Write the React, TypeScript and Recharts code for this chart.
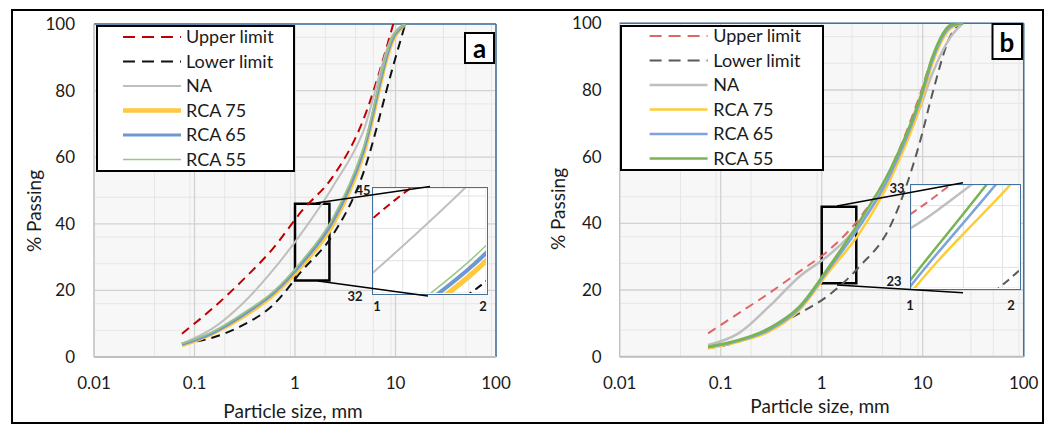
import React from 'react';
import { LineChart, Line, XAxis, YAxis, CartesianGrid, ReferenceArea, ReferenceLine, Legend } from 'recharts';

const FONT = "Lato, 'Open Sans', 'Noto Sans', sans-serif";

// ---------- Panel a data (sieve sizes in mm, % passing) ----------
const sieveA = [0.075, 0.15, 0.3, 0.6, 1.18, 2.36, 4.75, 9.5, 12.5];
const upperA = [7, 14.5, 23, 32.5, 44, 54, 71, 100, null];
const lowerA = [4, 5.8, 9.5, 15.5, 26, 36.5, 55, 87.5, 100];
const naA = [4, 8.5, 16, 26, 37.5, 51, 67.5, 97, 100];
const rca75A = [3.5, 7, 12, 18.5, 27.5, 39.5, 60.5, 95.5, 100];
const rca65A = [3.8, 7.2, 12.5, 19, 28.3, 40.5, 61.5, 96, 100];
const rca55A = [4, 7.5, 13, 19.5, 29, 41.5, 62.5, 96.5, 100];

// ---------- Panel b data ----------
const sieveB = [0.075, 0.15, 0.3, 0.6, 1.18, 2.36, 4.75, 9.5, 12.5, 19, 25];
const upperB = [7, 13, 19, 25.5, 32, 41.5, 56, 79, 90, 100, null];
const lowerB = [2.5, 4.5, 8.5, 13, 18.5, 27, 39, 65, 79, 96.5, 100];
const naB = [3.5, 7, 15, 24, 30.5, 39.5, 54, 75, 85, 96, 100];
const rca75B = [2.5, 4.5, 7.5, 14, 25.5, 37, 53, 75.5, 88, 98.5, 100];
const rca65B = [2.8, 4.8, 8, 14.5, 26.3, 39, 54.5, 77, 89, 99, 100];
const rca55B = [3, 5, 8.5, 15, 27, 40.5, 56, 78, 90, 99.5, 100];

// ---------- Ticks ----------
const xMajorTicks = [0.01, 0.1, 1, 10, 100];
const xMinorTicks = [
  0.02, 0.03, 0.04, 0.05, 0.06, 0.07, 0.08, 0.09,
  0.2, 0.3, 0.4, 0.5, 0.6, 0.7, 0.8, 0.9,
  2, 3, 4, 5, 6, 7, 8, 9,
  20, 30, 40, 50, 60, 70, 80, 90,
];
const yMajorTicks = [0, 20, 40, 60, 80, 100];
const yMinorTicks = [4, 8, 12, 16, 24, 28, 32, 36, 44, 48, 52, 56, 64, 68, 72, 76, 84, 88, 92, 96];
const insetXTicks = [1.2, 1.4, 1.6, 1.8];
const insetYTicksA = [36, 40, 44];
const insetYTicksB = [25, 28, 31];
const insetDomainA = [32, 45];
const insetDomainB = [23, 33];
const insetLabelsA = ['45', '32', '1', '2'];
const insetLabelsB = ['33', '23', '1', '2'];
const seriesNames = ['Upper limit', 'Lower limit', 'NA', 'RCA 75', 'RCA 65', 'RCA 55'];

type Row = { [k: string]: number | null };
const build = (x: number[], u: (number | null)[], l: number[], n: number[], r75: number[], r65: number[], r55: number[]): Row[] =>
  x.map((v, i) => ({ x: v, upper: u[i], lower: l[i], na: n[i], rca75: r75[i], rca65: r65[i], rca55: r55[i] }));

const rowsA = build(sieveA, upperA, lowerA, naA, rca75A, rca65A, rca55A);
const rowsB = build(sieveB, upperB, lowerB, naB, rca75B, rca65B, rca55B);

type Sty = { key: string; name: string; color: string; w: number; dash?: string; legendW: number; insetW: number };

const styleA: Sty[] = [
  { key: 'upper', name: seriesNames[0], color: '#C00000', w: 2, dash: '9 6', legendW: 2, insetW: 2 },
  { key: 'lower', name: seriesNames[1], color: '#111111', w: 2, dash: '9 6', legendW: 2, insetW: 2 },
  { key: 'na', name: seriesNames[2], color: '#BFBFBF', w: 2, legendW: 2, insetW: 2 },
  { key: 'rca75', name: seriesNames[3], color: '#FFC83D', w: 4, legendW: 4.5, insetW: 5 },
  { key: 'rca65', name: seriesNames[4], color: '#6F97D0', w: 3, legendW: 3, insetW: 4 },
  { key: 'rca55', name: seriesNames[5], color: '#9CC483', w: 1.7, legendW: 1.5, insetW: 1.5 },
];

const styleB: Sty[] = [
  { key: 'upper', name: seriesNames[0], color: '#E06666', w: 2, dash: '9 6', legendW: 2, insetW: 2 },
  { key: 'lower', name: seriesNames[1], color: '#595959', w: 2, dash: '9 6', legendW: 2, insetW: 2 },
  { key: 'na', name: seriesNames[2], color: '#BFBFBF', w: 2.5, legendW: 2.5, insetW: 2.5 },
  { key: 'rca75', name: seriesNames[3], color: '#FFCC33', w: 2.5, legendW: 2.5, insetW: 2.5 },
  { key: 'rca65', name: seriesNames[4], color: '#7BA3DC', w: 2.5, legendW: 2.5, insetW: 2.5 },
  { key: 'rca55', name: seriesNames[5], color: '#78B552', w: 2.5, legendW: 2.5, insetW: 2.5 },
];

type LegLay = { left: number; top: number; w: number; h: number; lx1: number; lx2: number; tx: number; row0: number; gap: number };

function LegendBox({ styles, lay }: { styles: Sty[]; lay: LegLay }) {
  return (
    <svg width={lay.w} height={lay.h} style={{ display: 'block' }}>
      <rect x={1} y={1} width={lay.w - 2} height={lay.h - 2} fill="#fff" stroke="#000" strokeWidth={2} />
      {styles.map((s, i) => {
        const y = lay.row0 + i * lay.gap;
        return (
          <g key={s.key}>
            <line x1={lay.lx1} x2={lay.lx2} y1={y} y2={y} stroke={s.color} strokeWidth={s.legendW} strokeDasharray={s.dash ? '12 7' : undefined} />
            <text x={lay.tx} y={y} dy="0.36em" fontSize={18} fontFamily={FONT} fill="#1a1a1a">{s.name}</text>
          </g>
        );
      })}
    </svg>
  );
}

type MainProps = {
  rows: Row[]; styles: Sty[]; width: number;
  margin: { top: number; right: number; bottom: number; left: number };
  tickGap: number; zoom: { x1: number; x2: number; y1: number; y2: number }; legend: LegLay;
};

function MainChart({ rows, styles, width, margin, tickGap, zoom, legend }: MainProps) {
  const tickStyle = { fontSize: 17, fill: '#1a1a1a', fontFamily: FONT };
  return (
    <LineChart width={width} height={424} data={rows} margin={margin}>
      <XAxis xAxisId="minor" dataKey="x" type="number" scale="log" domain={[0.01, 100]} ticks={xMinorTicks} allowDataOverflow hide />
      <YAxis yAxisId="minor" type="number" domain={[0, 100]} ticks={yMinorTicks} allowDataOverflow hide />
      <CartesianGrid xAxisId="minor" yAxisId="minor" stroke="#e6e6e6" strokeWidth={1} fill="#f7f7f7" fillOpacity={1} />
      <CartesianGrid stroke="#d2d2d2" strokeWidth={1.3} />
      <XAxis dataKey="x" type="number" scale="log" domain={[0.01, 100]} ticks={xMajorTicks} allowDataOverflow interval={0}
        height={30} tickLine={false} tickSize={0} tickMargin={20} axisLine={{ stroke: '#bfbfbf', strokeWidth: 2 }} tick={tickStyle} />
      <YAxis type="number" domain={[0, 100]} ticks={yMajorTicks} allowDataOverflow interval={0} width={40}
        tickLine={false} tickSize={0} tickMargin={tickGap} axisLine={{ stroke: '#bfbfbf' }} tick={tickStyle} />
      <ReferenceLine y={100} stroke="#41719C" strokeWidth={1.5} />
      <ReferenceLine x={100} stroke="#41719C" strokeWidth={1.5} />
      {styles.map((s) => (
        <Line key={s.key} dataKey={s.key} name={s.name} type="monotone" stroke={s.color} strokeWidth={s.w}
          strokeDasharray={s.dash} dot={false} activeDot={false} isAnimationActive={false} />
      ))}
      <ReferenceArea x1={zoom.x1} x2={zoom.x2} y1={zoom.y1} y2={zoom.y2} fill="none" fillOpacity={0} stroke="#000" strokeWidth={2.5} />
      <Legend layout="vertical" align="center" verticalAlign="middle"
        wrapperStyle={{ left: legend.left, top: legend.top, width: legend.w, height: legend.h }}
        content={() => <LegendBox styles={styles} lay={legend} />} />
    </LineChart>
  );
}

type Box = { x: number; y: number; w: number; h: number };

function InsetChart({ rows, styles, box, yDomain, yTicks }: { rows: Row[]; styles: Sty[]; box: Box; yDomain: number[]; yTicks: number[] }) {
  return (
    <div style={{ position: 'absolute', left: box.x, top: box.y, width: box.w, height: box.h, background: '#fff', border: '1.5px solid #41719C', boxSizing: 'border-box' }}>
      <LineChart width={box.w - 3} height={box.h - 3} data={rows} margin={{ top: 0, right: 0, bottom: 0, left: 0 }}>
        <XAxis dataKey="x" type="number" scale="log" domain={[1, 2]} ticks={insetXTicks} allowDataOverflow hide />
        <YAxis type="number" domain={yDomain} ticks={yTicks} allowDataOverflow hide />
        <CartesianGrid stroke="#e2e2e2" />
        {styles.map((s) => (
          <Line key={s.key} dataKey={s.key} type="monotone" stroke={s.color} strokeWidth={s.insetW}
            strokeDasharray={s.dash ? '8 5' : undefined} dot={false} activeDot={false} isAnimationActive={false} />
        ))}
      </LineChart>
    </div>
  );
}

const legendA: LegLay = { left: 96, top: 25, w: 199, h: 147, lx1: 27, lx2: 85, tx: 90, row0: 12, gap: 24.5 };
const legendB: LegLay = { left: 99.7, top: 25, w: 204, h: 146, lx1: 29.6, lx2: 87.6, tx: 93.3, row0: 11, gap: 24.5 };

export default function App() {
  const small = { fontSize: 13, fontWeight: 700, fontFamily: FONT, fill: '#1a1a1a' } as const;
  const title = { fontSize: 19, fontFamily: FONT, fill: '#1a1a1a' } as const;
  return (
    <div style={{ position: 'absolute', left: 0, top: 0, width: 1051, height: 424, background: '#fff', overflow: 'hidden' }}>
      <div style={{ position: 'absolute', left: 11, top: 9, width: 1033, height: 415, border: '2px solid #000', boxSizing: 'border-box' }} />
      <div style={{ position: 'absolute', left: 0, top: 0 }}>
        <MainChart rows={rowsA} styles={styleA} width={520} margin={{ top: 24, right: 24, bottom: 37, left: 54 }}
          tickGap={19} zoom={{ x1: 1, x2: 2.2, y1: 23, y2: 46 }} legend={legendA} />
      </div>
      <InsetChart rows={rowsA} styles={styleA} box={{ x: 372, y: 187, w: 116, h: 108 }} yDomain={insetDomainA} yTicks={insetYTicksA} />
      <div style={{ position: 'absolute', left: 520, top: 0 }}>
        <MainChart rows={rowsB} styles={styleB} width={531} margin={{ top: 23.3, right: 27.3, bottom: 37.3, left: 59.7 }}
          tickGap={18} zoom={{ x1: 1, x2: 2.2, y1: 22, y2: 45 }} legend={legendB} />
      </div>
      <InsetChart rows={rowsB} styles={styleB} box={{ x: 910, y: 184, w: 111, h: 106 }} yDomain={insetDomainB} yTicks={insetYTicksB} />
      <svg width={1051} height={424} style={{ position: 'absolute', left: 0, top: 0, pointerEvents: 'none' }}>
        <text x={33} y={211} transform="rotate(-90 33 211)" textAnchor="middle" dominantBaseline="central" {...title}>% Passing</text>
        <text x={293} y={410} textAnchor="middle" dominantBaseline="central" {...title}>Particle size, mm</text>
        <text x={557} y={209} transform="rotate(-90 557 209)" textAnchor="middle" dominantBaseline="central" {...title}>% Passing</text>
        <text x={820} y={405} textAnchor="middle" dominantBaseline="central" {...title}>Particle size, mm</text>
        <rect x={465} y={33} width={29} height={30} fill="#fff" stroke="#000" strokeWidth={2} />
        <text x={479.5} y={48} textAnchor="middle" dominantBaseline="central" fontSize={26} fontWeight={700} fontFamily={FONT} fill="#000">a</text>
        <rect x={992.5} y={24} width={29.5} height={35} fill="#fff" stroke="#000" strokeWidth={2} />
        <text x={1007} y={42} textAnchor="middle" dominantBaseline="central" fontSize={26} fontWeight={700} fontFamily={FONT} fill="#000">b</text>
        <line x1={316} y1={203} x2={430} y2={186.5} stroke="#000" strokeWidth={1.5} />
        <line x1={318} y1={281} x2={428} y2={296} stroke="#000" strokeWidth={1.5} />
        <text x={363} y={190} textAnchor="middle" dominantBaseline="central" {...small}>{insetLabelsA[0]}</text>
        <text x={355} y={296} textAnchor="middle" dominantBaseline="central" {...small}>{insetLabelsA[1]}</text>
        <text x={377} y={306} textAnchor="middle" dominantBaseline="central" {...small}>{insetLabelsA[2]}</text>
        <text x={483} y={306} textAnchor="middle" dominantBaseline="central" {...small}>{insetLabelsA[3]}</text>
        <line x1={837} y1={206} x2={963} y2={182.7} stroke="#000" strokeWidth={1.5} />
        <line x1={837} y1={285} x2={963} y2={292.7} stroke="#000" strokeWidth={1.5} />
        <text x={897} y={188} textAnchor="middle" dominantBaseline="central" {...small}>{insetLabelsB[0]}</text>
        <text x={894} y={281} textAnchor="middle" dominantBaseline="central" {...small}>{insetLabelsB[1]}</text>
        <text x={910} y={305} textAnchor="middle" dominantBaseline="central" {...small}>{insetLabelsB[2]}</text>
        <text x={1011} y={305} textAnchor="middle" dominantBaseline="central" {...small}>{insetLabelsB[3]}</text>
      </svg>
    </div>
  );
}
